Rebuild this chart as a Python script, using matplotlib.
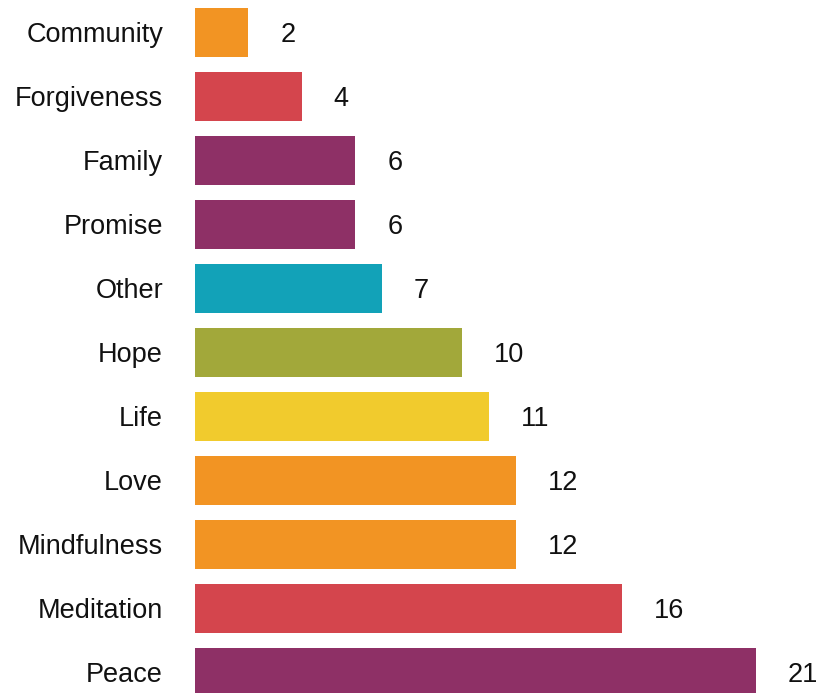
import matplotlib
matplotlib.use("Agg")
import matplotlib.pyplot as plt

categories = ["Community", "Forgiveness", "Family", "Promise", "Other", "Hope",
              "Life", "Love", "Mindfulness", "Meditation", "Peace"]
values = [2, 4, 6, 6, 7, 10, 11, 12, 12, 16, 21]
colors = ["#F29423", "#D4454D", "#8E3066", "#8E3066", "#12A2B8", "#A2A83A",
          "#F1CB2D", "#F29423", "#F29423", "#D4454D", "#8E3066"]

plt.rcParams['font.family'] = ['Liberation Sans', 'DejaVu Sans']

W, H = 817, 693
dpi = 100
fig = plt.figure(figsize=(W / dpi, H / dpi), dpi=dpi)
left = 195 / W
ax = fig.add_axes([left, 0, 1 - left, 1])

pos = list(range(len(categories)))
ax.barh(pos, values, height=0.76, color=colors)

px_per_unit = (756 - 195) / 21
ax.set_xlim(0, (W - 195) / px_per_unit)
ax.set_ylim((H - 32.5) / 64, -32.5 / 64)

ax.set_yticks(pos)
ax.set_yticklabels(categories, fontsize=19.5, color="#111111")
for t in ax.get_yticklabels():
    t.set_verticalalignment('center_baseline')
ax.tick_params(axis='y', length=0, pad=23)
ax.set_xticks([])
for s in ax.spines.values():
    s.set_visible(False)

for p, v in zip(pos, values):
    ax.annotate(str(v), xy=(v, p), xytext=(23, 0), textcoords='offset points',
                va='center_baseline', ha='left', fontsize=19.5, color="#111111")

fig.savefig("out.png", dpi=dpi)
